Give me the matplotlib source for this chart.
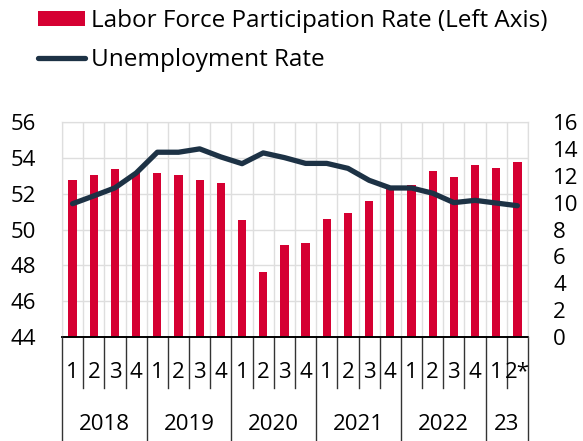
"""
Labor force participation vs unemployment, quarterly 2018-2023.
Writes out.png
"""
import numpy as np
import matplotlib
matplotlib.use("Agg")
import matplotlib.pyplot as plt
from matplotlib.patches import Patch
from matplotlib.lines import Line2D
import matplotlib.transforms as mtransforms

matplotlib.rcParams.update({
    'font.family': ['Open Sans', 'DejaVu Sans'],
    'font.size': 16,
})

QUARTERS = ["1", "2", "3", "4"] * 5 + ["1", "2*"]
YEARS = ["2018", "2019", "2020", "2021", "2022", "23"]
YEAR_COUNTS = [4, 4, 4, 4, 4, 2]

LFPR = [52.74, 53.04, 53.40, 53.18, 53.13, 53.04, 52.74, 52.58, 50.51, 47.61,
        49.13, 49.25, 50.58, 50.92, 51.61, 52.30, 52.47, 53.25, 52.91, 53.58,
        53.45, 53.75]
UNEMP = [9.92, 10.50, 11.10, 12.20, 13.75, 13.75, 14.00, 13.40, 12.90, 13.70,
         13.35, 12.92, 12.92, 12.55, 11.66, 11.09, 11.09, 10.70, 10.00, 10.17,
         9.97, 9.77]

RED = "#d50032"
NAVY = "#1d3245"
GRID = "#dedede"

fig = plt.figure(figsize=(5.83, 4.41), dpi=100)
ax = fig.add_axes([62 / 583, 1 - 337 / 441, 466 / 583, 215 / 441])
ax2 = ax.twinx()

x = np.arange(len(LFPR))
ax.bar(x, LFPR, width=0.39, color=RED, zorder=2)
ax.set_ylim(44, 56)
ax.set_yticks(np.arange(44, 57, 2))
ax.set_xlim(-0.5, len(LFPR) - 0.5)
ax.set_xticks(np.arange(-0.5, len(LFPR), 1.0))
ax.set_xticklabels([])
ax.tick_params(axis="x", length=0)
ax.tick_params(axis="y", length=0, pad=19)
ax.grid(True, color=GRID, linewidth=1.0, zorder=0)
ax.set_axisbelow(True)

ax2.plot(x, UNEMP, color=NAVY, linewidth=3.8, solid_capstyle="round",
         solid_joinstyle="round", zorder=3)
ax2.set_ylim(0, 16)
ax2.set_yticks(np.arange(0, 17, 2))
ax2.tick_params(axis="y", length=0, pad=18)

for a in (ax, ax2):
    for s in ("top", "left", "right"):
        a.spines[s].set_color(GRID)
    a.spines["bottom"].set_color("black")
    a.spines["bottom"].set_linewidth(1.2)

# two-level category axis
trans = mtransforms.blended_transform_factory(ax.transData, ax.transAxes)
for i, q in enumerate(QUARTERS):
    ax.text(i, -0.167, q, transform=trans, ha="center", va="center")
bounds = np.concatenate([[0], np.cumsum(YEAR_COUNTS)])
for b in range(len(LFPR) + 1):
    bot = -0.484 if b in bounds else -0.237
    ax.plot([b - 0.5, b - 0.5], [0, bot], transform=trans, color="#333333",
            linewidth=1.0, clip_on=False)
for yr, lo, hi in zip(YEARS, bounds[:-1], bounds[1:]):
    ax.text((lo + hi - 1) / 2, -0.405, yr, transform=trans,
            ha="center", va="center")

handles = [Patch(facecolor=RED, edgecolor="none"),
           Line2D([], [], color=NAVY, linewidth=3.8, solid_capstyle="round")]
fig.legend(handles, ["Labor Force Participation Rate (Left Axis)",
                     "Unemployment Rate"],
           loc="upper left", bbox_to_anchor=(38 / 583, 1 - 9 / 441),
           frameon=False, borderpad=0, borderaxespad=0, fontsize=17.5,
           handlelength=1.95, handleheight=0.62, handletextpad=0.25,
           labelspacing=0.62)

fig.savefig("out.png", dpi=100)
